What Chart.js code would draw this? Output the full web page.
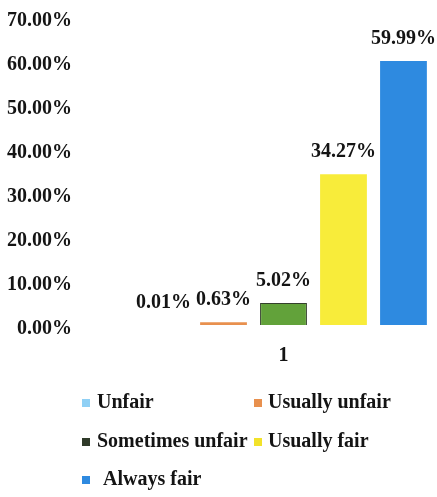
<!DOCTYPE html>
<html>
<head>
<meta charset="utf-8">
<script src="https://cdn.jsdelivr.net/npm/chart.js@4/dist/chart.umd.min.js"></script>
<style>
  html, body { margin: 0; padding: 0; background: #fff; }
  #wrap { width: 437px; height: 497px; }
</style>
</head>
<body>
<div id="wrap"><canvas id="c" width="437" height="497"></canvas></div>
<script>
const categories = ['1'];
const seriesNames = ['Unfair', 'Usually unfair', 'Sometimes unfair', 'Usually fair', 'Always fair'];
const seriesValues = [0.01, 0.63, 5.02, 34.27, 59.99];
const seriesColors = ['#8fd0f5', '#e8904e', '#62a23a', '#f8ec3a', '#2e8ae0'];
const seriesBorders = ['#8fd0f5', '#e8904e', '#34402c', '#f8ec3a', '#2e8ae0'];
const legendMarkColors = ['#8fd0f5', '#e8904e', '#2f3a29', '#f2e22a', '#2e8ae0'];
const yTickValues = [0, 10, 20, 30, 40, 50, 60, 70];
const yTickLabels = ['0.00%', '10.00%', '20.00%', '30.00%', '40.00%', '50.00%', '60.00%', '70.00%'];

const FONT = 'bold 20px "Liberation Serif", "Times New Roman", serif';
const TEXT = '#141414';

const valueLabels = {
  id: 'valueLabels',
  afterDatasetsDraw(chart) {
    const ctx = chart.ctx;
    ctx.save();
    ctx.font = FONT;
    ctx.fillStyle = TEXT;
    ctx.textAlign = 'center';
    ctx.textBaseline = 'middle';
    chart.data.datasets.forEach((ds, i) => {
      const meta = chart.getDatasetMeta(i);
      meta.data.forEach((bar, j) => {
        ctx.fillText(ds.data[j].toFixed(2) + '%', bar.x, bar.y - 22);
      });
    });
    ctx.restore();
  }
};

const gridLegend = {
  id: 'gridLegend',
  afterDraw(chart) {
    const ctx = chart.ctx;
    const H = chart.height;
    const rowY = [H - 94, H - 55, H - 17];
    const colMark = [82, 254];
    const colText = [97, 268];
    ctx.save();
    ctx.font = FONT;
    ctx.fillStyle = TEXT;
    ctx.textAlign = 'left';
    ctx.textBaseline = 'middle';
    chart.data.datasets.forEach((ds, i) => {
      const r = Math.floor(i / 2), c = i % 2;
      const y = rowY[r];
      ctx.fillStyle = legendMarkColors[i];
      ctx.fillRect(colMark[c], y - 4, 8, 8);
      ctx.fillStyle = TEXT;
      ctx.fillText(ds.label, colText[c] + (i === 4 ? 6 : 0), y);
    });
    ctx.restore();
  }
};

new Chart(document.getElementById('c'), {
  type: 'bar',
  data: {
    labels: categories,
    datasets: seriesNames.map((name, i) => ({
      label: name,
      data: [seriesValues[i]],
      backgroundColor: seriesColors[i],
      borderColor: seriesBorders[i],
      borderWidth: i === 2 ? 1 : 0,
      barPercentage: 0.78,
      categoryPercentage: 0.977
    }))
  },
  options: {
    responsive: false,
    animation: false,
    devicePixelRatio: 1,
    layout: { padding: { top: 17, right: 0, bottom: 110, left: 0 } },
    plugins: {
      legend: { display: false },
      tooltip: { enabled: false }
    },
    scales: {
      x: {
        grid: { display: false, drawTicks: false },
        border: { display: false },
        ticks: { color: TEXT, font: { family: '"Liberation Serif", serif', weight: 'bold', size: 20 }, padding: 19 }
      },
      y: {
        min: 0,
        max: 70,
        afterFit(scale) { scale.width = 130; scale.paddingTop = 12; scale.paddingBottom = 0; },
        afterBuildTicks(scale) { scale.ticks = yTickValues.map(v => ({ value: v })); },
        grid: { display: false, drawTicks: false },
        border: { display: false },
        ticks: {
          color: TEXT,
          font: { family: '"Liberation Serif", serif', weight: 'bold', size: 20 },
          padding: 58,
          labelOffset: 4,
          callback: (v) => yTickLabels[yTickValues.indexOf(v)]
        }
      }
    }
  },
  plugins: [valueLabels, gridLegend]
});
</script>
</body>
</html>
